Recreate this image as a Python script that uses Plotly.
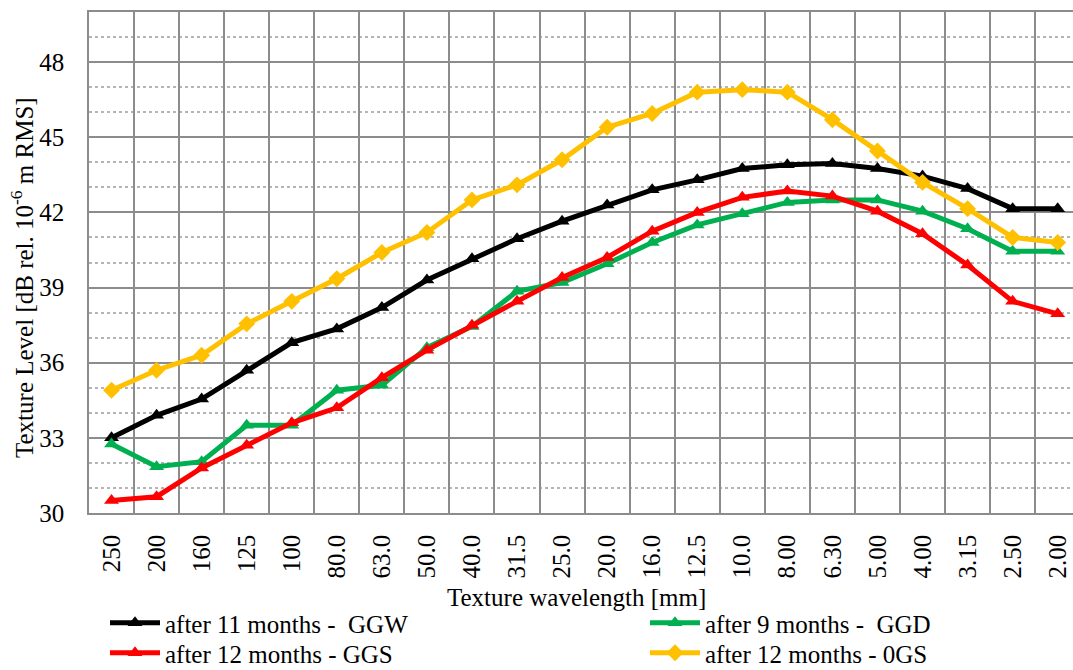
import plotly.graph_objects as go

wavelengths = ["250", "200", "160", "125", "100", "80.0", "63.0", "50.0", "40.0", "31.5",
               "25.0", "20.0", "16.0", "12.5", "10.0", "8.00", "6.30", "5.00", "4.00",
               "3.15", "2.50", "2.00"]

ggw_11m = [33.0, 33.9, 34.55, 35.7, 36.8, 37.35, 38.2, 39.3, 40.15, 40.95, 41.65, 42.3,
           42.9, 43.3, 43.75, 43.9, 43.95, 43.75, 43.45, 42.95, 42.15, 42.15]
ggd_9m = [32.75, 31.85, 32.05, 33.5, 33.5, 34.9, 35.1, 36.6, 37.45, 38.85, 39.2, 39.95,
          40.8, 41.5, 41.95, 42.4, 42.5, 42.5, 42.05, 41.35, 40.45, 40.45]
ggs_12m = [30.5, 30.65, 31.8, 32.7, 33.6, 34.2, 35.4, 36.5, 37.5, 38.45, 39.4, 40.2,
           41.25, 42.0, 42.6, 42.85, 42.65, 42.05, 41.15, 39.9, 38.45, 37.95]
ogs_12m = [34.9, 35.7, 36.3, 37.55, 38.45, 39.35, 40.4, 41.2, 42.5, 43.1, 44.1, 45.4,
           45.95, 46.8, 46.9, 46.8, 45.7, 44.45, 43.2, 42.15, 41.0, 40.8]

series = [
    ("after 11 months -  GGW", ggw_11m, "#000000", "triangle-up", "legend"),
    ("after 9 months -  GGD", ggd_9m, "#00b050", "triangle-up", "legend2"),
    ("after 12 months - GGS", ggs_12m, "#ff0000", "triangle-up", "legend3"),
    ("after 12 months - 0GS", ogs_12m, "#ffc000", "diamond", "legend4"),
]

FONT = "Liberation Serif"
fig = go.Figure()
for name, vals, col, sym, leg in series:
    fig.add_trace(go.Scatter(
        x=wavelengths, y=vals, name=name, mode="lines+markers",
        line=dict(color=col, width=5),
        marker=dict(symbol=sym, size=13, color=col, line=dict(width=0)),
        legend=leg,
    ))

grid_col = "#8c8c8c"
leg_common = dict(
    orientation="v", yanchor="top", xanchor="left", itemwidth=50,
    font=dict(family=FONT, size=25, color="#000000"),
    tracegroupgap=0, bgcolor="rgba(0,0,0,0)",
)
row1 = -(600 - 513) / 501
row2 = -(630 - 513) / 501
col1 = (105 - 89) / 984
col2 = (645 - 89) / 984
fig.update_layout(
    width=1073, height=670,
    margin=dict(l=89, r=0, t=12, b=157, autoexpand=False),
    paper_bgcolor="white", plot_bgcolor="white",
    font=dict(family=FONT, size=25, color="#000000"),
    showlegend=True,
    legend=dict(x=col1, y=row1, **leg_common),
    legend2=dict(x=col2, y=row1, **leg_common),
    legend3=dict(x=col1, y=row2, **leg_common),
    legend4=dict(x=col2, y=row2, **leg_common),
    xaxis=dict(
        type="category", range=[-0.5, 21.34], tickson="boundaries",
        showgrid=True, gridcolor=grid_col, gridwidth=1.5,
        showline=True, linecolor=grid_col, linewidth=1.5, mirror=True,
        ticks="", tickangle=-90, ticklabelstandoff=10,
        tickfont=dict(family=FONT, size=25, color="#000000"),
        zeroline=False, automargin=False,
    ),
    yaxis=dict(
        range=[30, 50], tick0=30, dtick=3,
        showgrid=True, gridcolor=grid_col, gridwidth=1.5,
        showline=True, linecolor=grid_col, linewidth=1.5, mirror=False,
        ticks="", ticklabelstandoff=18,
        tickfont=dict(family=FONT, size=25, color="#000000"),
        zeroline=False, automargin=False,
        minor=dict(tick0=30, dtick=1, showgrid=True, gridcolor="#b4b4b4",
                   gridwidth=1.5, griddash="dot"),
    ),
    annotations=[
        dict(text="Texture Level [dB rel. 10<sup>-6</sup> m RMS]", textangle=-90,
             xref="paper", yref="paper", x=(22 - 89) / 984, y=(513 - 278) / 501,
             xanchor="center", yanchor="middle", showarrow=False,
             font=dict(family=FONT, size=25, color="#000000")),
        dict(text="Texture wavelength [mm]",
             xref="paper", yref="paper", x=(576 - 89) / 984, y=-(597 - 513) / 501,
             xanchor="center", yanchor="middle", showarrow=False,
             font=dict(family=FONT, size=25, color="#000000")),
    ],
)

fig.write_html("out.html")
